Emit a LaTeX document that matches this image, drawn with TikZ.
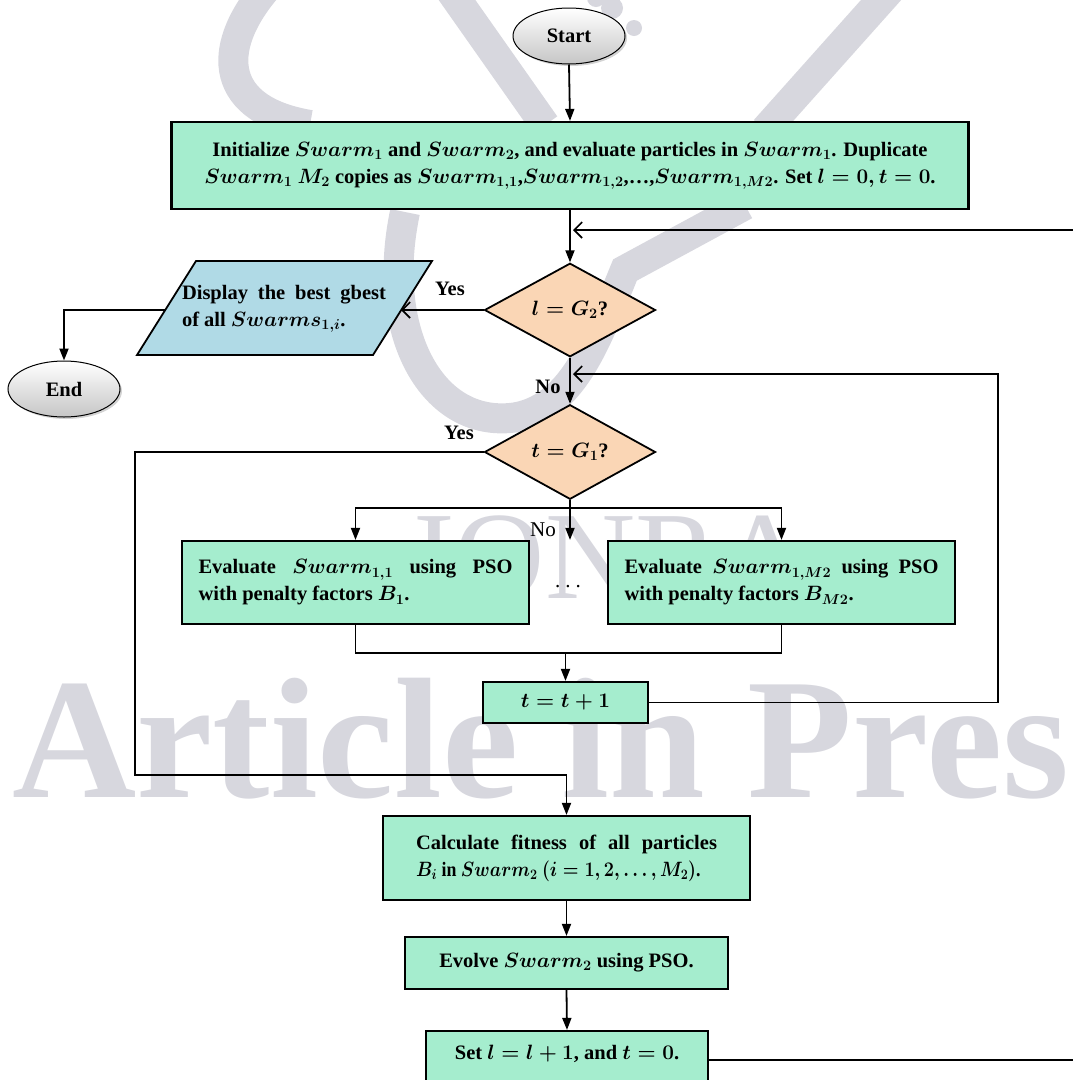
\documentclass[tikz,border=0pt]{standalone}
\usepackage{fontspec}
\usepackage{graphicx}
\setmainfont{Liberation Serif}
\usetikzlibrary{shapes.geometric,arrows.meta,shadows}
\definecolor{mint}{RGB}{165,237,206}
\definecolor{peach}{RGB}{250,214,181}
\definecolor{sky}{RGB}{176,218,230}
\definecolor{wmgray}{RGB}{215,215,222}
\begin{document}
\begin{tikzpicture}[x=1pt,y=-1pt,
  base/.style={font=\fontsize{20.5}{27}\selectfont\bfseries\boldmath},
  proc/.style={base, draw, line width=2.2pt, fill=mint, inner sep=0pt, align=center},
  dec/.style={base, diamond, draw, line width=1.8pt, fill=peach, inner sep=0pt,
    minimum width=171pt, minimum height=88pt},
  term/.style={base, ellipse, draw, line width=1pt, top color=white, bottom color=gray!45,
    drop shadow={opacity=0.35, shadow xshift=2pt, shadow yshift=-2pt},
    minimum width=112pt, minimum height=56pt, inner sep=0pt},
  conn/.style={line width=1.8pt},
  arr/.style={conn, -{Triangle[length=12pt,width=9pt]}},
  barb/.style={conn, -{Straight Barb[length=8pt,width=16pt,line width=1.6pt]}},
  lbl/.style={base, inner sep=0pt},
  regular/.style={inner sep=0pt, font=\fontsize{21}{21}\selectfont}]
\useasboundingbox (0,0) rectangle (1073,1080);

% watermark: logo strokes and lettering
\begin{scope}[wmgray, line width=30pt]
  \draw (265,-10) .. controls (215,50) and (220,110) .. (310,125);
  \draw (450,-10) -- (545,125);
  \draw (890,-10) -- (765,130);
  \draw (405,212) .. controls (380,330) and (430,425) .. (510,418)
        .. controls (575,412) and (600,330) .. (625,270) -- (745,205);
  \fill (612,8) circle (11);
  \fill (634,28) circle (8);
  \fill (596,-2) circle (9);
\end{scope}
\node[wmgray, font=\fontsize{172}{172}\selectfont\bfseries, anchor=base west, inner sep=0pt]
  (wmA) at (12,797) {Article in Pres};
\node[wmgray, font=\fontsize{125}{125}\selectfont, anchor=base west, inner sep=0pt]
  (wmB) at (413,598) {IONRA};

% terminals
\node[term] (start) at (569,36) {Start};
\node[term] (end) at (64,389) {End};

% process boxes
\node[proc, minimum width=797pt, minimum height=87pt] (init) at (570,165.5)
  {Initialize $Swarm_1$ and $Swarm_2$, and evaluate particles in $Swarm_1$. Duplicate\\
   $Swarm_1$ $M_2$ copies as $Swarm_{1,1}$,$Swarm_{1,2}$,…,$Swarm_{1,M2}$. Set $l = 0, t = 0$.};

\node[dec] (d1) at (570,310) {$l = G_2$?};
\node[dec] (d2) at (570,452) {$t = G_1$?};

% output parallelogram
\coordinate (pTL) at (196,261);
\coordinate (pTR) at (432,261);
\coordinate (pBR) at (373,355);
\coordinate (pBL) at (137,355);
\draw[line width=1.8pt, fill=sky] (pTL) -- (pTR) -- (pBR) -- (pBL) -- cycle;
\coordinate (dispR) at (401,310);
\coordinate (dispL) at (165,310);
\node[lbl, text width=204pt, align=justify] (disp) at (284,309)
  {Display the best gbest\linebreak of all $Swarms_{1,i}$.};

\node[proc, minimum width=347pt, minimum height=83pt, text width=314pt, align=justify]
  (ev1) at (355.5,582.5) {Evaluate $Swarm_{1,1}$ using PSO\linebreak with penalty factors $B_1$.};
\node[proc, minimum width=347pt, minimum height=83pt, text width=314pt, align=justify]
  (ev2) at (781.5,582.5) {Evaluate $Swarm_{1,M2}$ using PSO\linebreak with penalty factors $B_{M2}$.};

\node[proc, minimum width=165pt, minimum height=41pt] (tbox) at (565.5,702.5) {$t = t + 1$};

\node[proc, minimum width=367pt, minimum height=84pt, text width=301pt, align=justify]
  (calc) at (566.5,858) {Calculate fitness of all particles\linebreak
   \scalebox{0.87}[1]{$B_i$ in $Swarm_2$ $(i = 1, 2, \ldots, M_2)$.}};

\node[proc, minimum width=323pt, minimum height=52pt] (evolve) at (566.5,963)
  {Evolve $Swarm_2$ using PSO.};

\node[proc, minimum width=282pt, minimum height=58pt, text height=12pt, text depth=14pt]
  (set) at (567,1060) {Set $l = l + 1$, and $t = 0$.};

% branch labels
\node[lbl] (yes1) at (450,289) {Yes};
\node[lbl] (yes2) at (459,433) {Yes};
\node[lbl] (no1) at (548,387) {No};
\node[regular] (no2) at (543,530) {No};
\node[regular, anchor=base] (dots) at (568,587) {.\hspace{5pt}.\hspace{5pt}.};

% connectors
\coordinate (loopTop) at (1090,230);
\coordinate (loopMid) at (998,374);
\coordinate (yesCorner) at (135,775);
\coordinate (split) at (570,508);
\coordinate (merge) at (565.5,653);

\draw[arr] (start.south) -- (init.north);
\draw[arr] (init.south) -- (d1.north);
\draw[barb, shorten >=3pt] (set.east) -- (set.east -| loopTop) -- (loopTop) -- (loopTop -| d1.north);
\draw[barb] (d1.west) -- (dispR);
\draw[arr] (dispL) -| (end.north);
\draw[arr] (d1.south) -- (d2.north);
\draw[barb, shorten >=3pt] (tbox.east) -| (loopMid) -- (loopMid -| d2.north);
\draw[arr] (d2.west) -| (yesCorner) -| (calc.north);
\draw[arr] (d2.south) -- (d2.south |- ev1.north);
\draw[arr] (split) -| (ev1.north);
\draw[arr] (split) -| (ev2.north);
\draw[conn] (ev1.south) |- (merge);
\draw[conn] (ev2.south) |- (merge);
\draw[arr] (merge) -- (tbox.north);
\draw[arr] (calc.south) -- (evolve.north);
\draw[arr] (evolve.south) -- (set.north);
\end{tikzpicture}
\end{document}
